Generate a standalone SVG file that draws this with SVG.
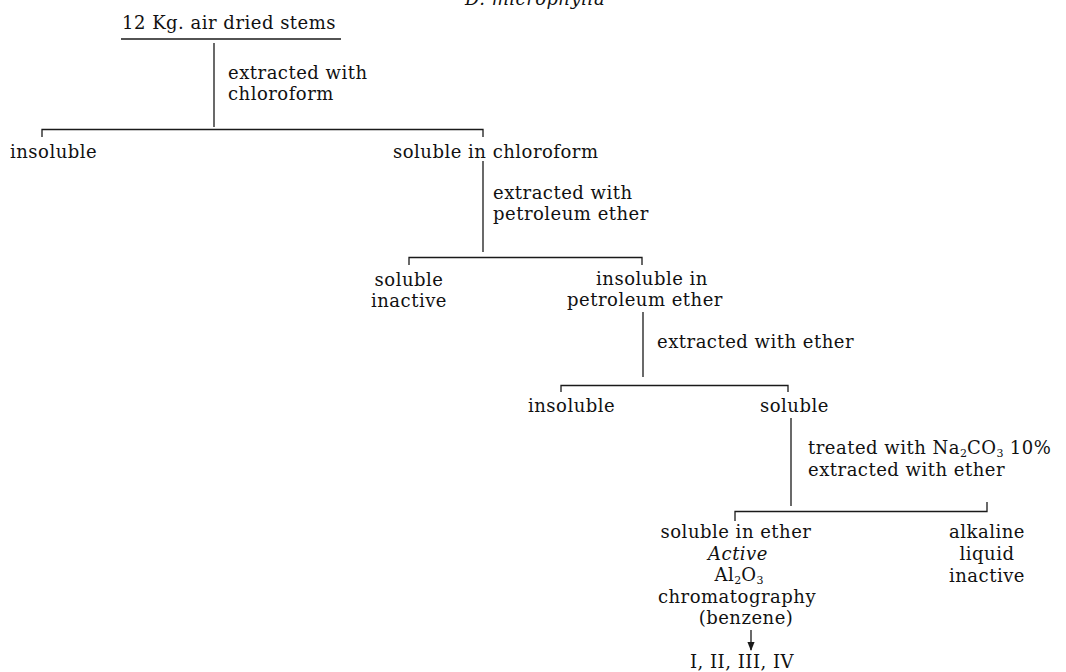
<svg xmlns="http://www.w3.org/2000/svg" width="1066" height="672" viewBox="0 0 1066 672">
<defs>
<style>
text{font-family:"DejaVu Serif","Liberation Serif",serif;font-size:18px;letter-spacing:0.5px;fill:#111}
.c{text-anchor:middle}
.i{font-style:italic}
.ln{stroke:#1a1a1a;stroke-width:1.3;fill:none}
.sub{font-size:11px;letter-spacing:0}
</style>
<marker id="ah" viewBox="0 0 10 10" refX="9" refY="5" markerWidth="7" markerHeight="7" orient="auto">
<path d="M0,1 L10,5 L0,9 Z" fill="#1a1a1a"/>
</marker>
</defs>
<rect width="1066" height="672" fill="#fff"/>
<g id="title"><text class="i" x="465" y="5">D. microphylla</text></g>
<g id="n-stems"><text x="122" y="29">12 Kg. air dried stems</text><line class="ln" x1="121" y1="39" x2="341" y2="39"/></g>
<g id="l-chloroform"><text x="228" y="79">extracted with</text><text x="228" y="100">chloroform</text></g>
<g id="n-insoluble1"><text x="10" y="158">insoluble</text></g>
<g id="n-soluble-chloroform"><text x="393" y="158">soluble in chloroform</text></g>
<g id="l-petroleum"><text x="493" y="199">extracted with</text><text x="493" y="220">petroleum ether</text></g>
<g id="n-soluble-inactive"><text class="c" x="409" y="286">soluble</text><text class="c" x="409" y="307">inactive</text></g>
<g id="n-insoluble-petroleum"><text class="c" x="652" y="285">insoluble in</text><text class="c" x="645" y="306">petroleum ether</text></g>
<g id="l-ether"><text x="657" y="348">extracted with ether</text></g>
<g id="n-insoluble2"><text x="528" y="412">insoluble</text></g>
<g id="n-soluble2"><text x="760" y="412">soluble</text></g>
<g id="l-na2co3"><text x="808" y="454">treated with Na<tspan class="sub" dy="3">2</tspan><tspan dy="-3">CO</tspan><tspan class="sub" dy="3">3</tspan><tspan dy="-3"> 10%</tspan></text><text x="808" y="476">extracted with ether</text></g>
<g id="n-soluble-ether"><text class="c" x="736" y="538">soluble in ether</text><text class="c i" x="738" y="560">Active</text><text class="c" x="739" y="581">Al<tspan class="sub" dy="3">2</tspan><tspan dy="-3">O</tspan><tspan class="sub" dy="3">3</tspan></text><text class="c" x="737" y="603">chromatography</text><text class="c" x="746" y="624">(benzene)</text></g>
<g id="n-products"><text class="c" x="742" y="668">I, II, III, IV</text></g>
<g id="n-alkaline"><text class="c" x="987" y="538">alkaline</text><text class="c" x="987" y="560">liquid</text><text class="c" x="987" y="582">inactive</text></g>
<g id="connectors">
<path class="ln" d="M214,43 V127"/>
<path class="ln" d="M42,137 V129.5 H483 V137"/>
<path class="ln" d="M483,161 V252"/>
<path class="ln" d="M409,265 V257.5 H642 V265"/>
<path class="ln" d="M643,312 V377"/>
<path class="ln" d="M561,392 V385.5 H788 V392"/>
<path class="ln" d="M791,418 V506"/>
<path class="ln" d="M735,521 V511.5 H987 V502"/>
<path class="ln" d="M751,630 V650" marker-end="url(#ah)"/>
</g>
</svg>
